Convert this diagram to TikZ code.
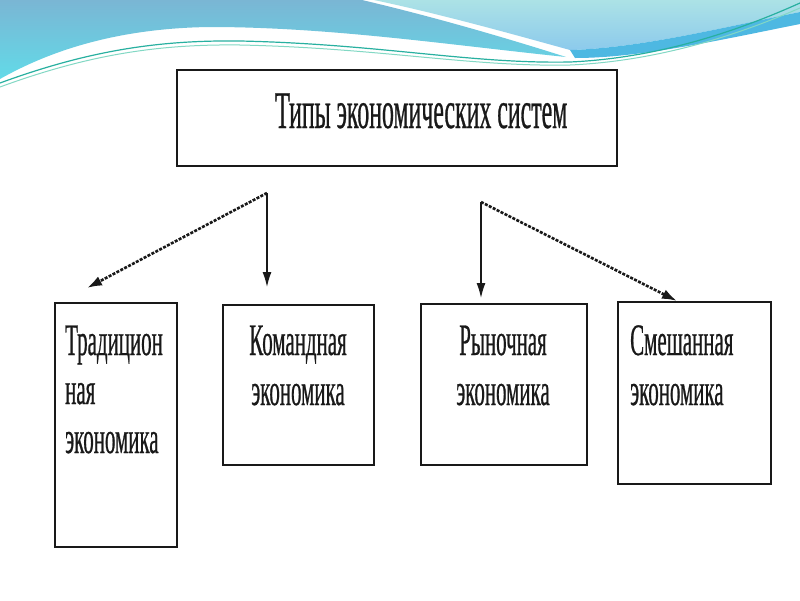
\documentclass[tikz,border=0pt]{standalone}
\usepackage{fontspec}
\newfontfamily\cf[FakeStretch=0.45,FakeBold=0.5]{Liberation Serif}
\newfontfamily\cs[FakeStretch=0.465,FakeBold=0.5]{Liberation Serif}
\usetikzlibrary{arrows.meta}
\definecolor{steel}{RGB}{122,182,212}
\definecolor{cyanb}{RGB}{98,218,232}
\definecolor{paletop}{RGB}{172,226,230}
\definecolor{palebot}{RGB}{140,202,236}
\definecolor{bandd}{RGB}{78,184,226}
\definecolor{teal1}{RGB}{40,176,160}
\definecolor{teal2}{RGB}{130,216,196}
\definecolor{ink}{RGB}{25,25,25}
\begin{document}
\begin{tikzpicture}[x=1pt,y=-1pt,
  box/.style={draw=ink, line width=2pt, inner sep=0pt, fill=white},
  tbig/.style={font=\cf\fontsize{53}{53}\selectfont, inner sep=0pt, text=ink},
  tsm/.style={font=\cs\fontsize{45}{49}\selectfont, inner sep=0pt, text=ink},
  solidarrow/.style={draw=ink, line width=1.3pt, -{Latex[length=15pt,width=9pt]}},
  dasharrow/.style={draw=ink, line width=2.6pt, dash pattern=on 3pt off 1.4pt, -{Latex[length=15pt,width=10pt]}}
]
\useasboundingbox (0,0) rectangle (800,600);
\fill[white] (0,0) rectangle (800,600);
% decorative wave
\shade[top color=steel, bottom color=cyanb]
  (0,0) -- (362,0) .. controls (430,16) and (500,36) .. (566,57)
  .. controls (450,45) and (330,27) .. (210,27)
  .. controls (130,28) and (60,45) .. (0,79) -- cycle;
\shade[top color=paletop, bottom color=palebot]
  (374,0) -- (800,0) -- (800,12) .. controls (720,28) and (640,48) .. (570,50)
  .. controls (505,32) and (440,14) .. (374,0) -- cycle;
\fill[bandd]
  (570,50) .. controls (640,48) and (720,28) .. (800,12) -- (800,24)
  .. controls (720,40) and (640,58) .. (575,58) -- cycle;
\draw[teal1, line width=1.2pt]
  (0,83) .. controls (90,50) and (160,40) .. (240,41)
  .. controls (380,44) and (470,64) .. (570,62)
  .. controls (660,58) and (740,30) .. (800,3);
\draw[teal2, line width=1pt]
  (0,87) .. controls (90,54) and (160,44) .. (240,45)
  .. controls (380,48) and (470,67) .. (570,65)
  .. controls (660,61) and (740,34) .. (800,8);
% boxes
\node[box, minimum width=440pt, minimum height=96pt] (top) at (397,118) {};
\node[box, minimum width=122pt, minimum height=244pt] (b1) at (116,425) {};
\node[box, minimum width=151pt, minimum height=160pt] (b2) at (298.5,385) {};
\node[box, minimum width=166pt, minimum height=161pt] (b3) at (504,384.5) {};
\node[box, minimum width=153pt, minimum height=182pt] (b4) at (694.5,393) {};
% texts
\node[tbig, anchor=base west] (ttl) at (275,128) {Типы экономических систем};
\node[tsm, anchor=base west] (t1a) at (65,355) {Традицион};
\node[tsm, anchor=base west] (t1b) at (65,404) {ная};
\node[tsm, anchor=base west] (t1c) at (65,453) {экономика};
\node[tsm, anchor=base] (t2a) at (298,355) {Командная};
\node[tsm, anchor=base] (t2b) at (298,405) {экономика};
\node[tsm, anchor=base] (t3a) at (503,355) {Рыночная};
\node[tsm, anchor=base] (t3b) at (503,405) {экономика};
\node[tsm, anchor=base west] (t4a) at (630,355) {Смешанная};
\node[tsm, anchor=base west] (t4b) at (630,405) {экономика};
% arrows
\coordinate (s1) at (267,193);
\coordinate (e1) at (87,288);
\coordinate (e2) at (267,287);
\coordinate (s2) at (481,202);
\coordinate (e3) at (481,298);
\coordinate (e4) at (677,301);
\draw[dasharrow] (s1) -- (e1);
\draw[solidarrow] (s1) -- (e2);
\draw[solidarrow] (s2) -- (e3);
\draw[dasharrow] (s2) -- (e4);
\end{tikzpicture}
\end{document}
